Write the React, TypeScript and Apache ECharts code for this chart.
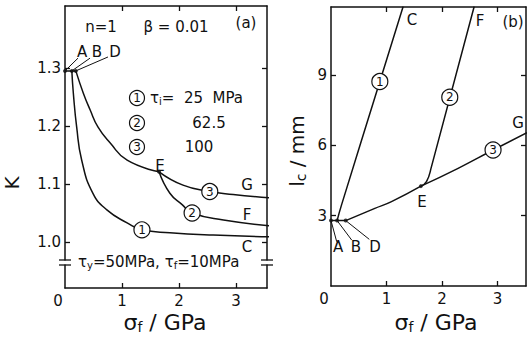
import { useEffect, useRef } from 'react';
import * as echarts from 'echarts';

// ---------------- data ----------------
const sigmaTickValues = [1, 2, 3];
const sigmaLabelValues = [0, 1, 2, 3];
const kTickValues = [1.0, 1.1, 1.2, 1.3];
const lcTickValues = [3, 6, 9];
const lcLabelValues = [3, 6, 9];

// panel (a): K vs sigma_f (GPa)
const kABD = [[0, 1.295], [0.12, 1.295], [0.19, 1.295]];
const kCurve1 = [[0.12, 1.295], [0.146, 1.257], [0.205, 1.198], [0.293, 1.141], [0.49, 1.084], [0.74, 1.055], [1.09, 1.033], [1.35, 1.021], [1.84, 1.016], [2.6, 1.012], [3.6, 1.009]];
const kCurveDE = [[0.19, 1.295], [0.32, 1.257], [0.44, 1.228], [0.58, 1.198], [0.79, 1.171], [1.09, 1.141], [1.65, 1.121]];
const kCurve3 = [[1.65, 1.121], [2.07, 1.098], [2.54, 1.087], [2.95, 1.082], [3.6, 1.076]];
const kCurve2 = [[1.65, 1.121], [1.84, 1.084], [2.06, 1.064], [2.23, 1.05], [2.78, 1.038], [3.6, 1.028]];
const kDots = [[0, 1.295], [0.12, 1.295], [0.19, 1.295], [1.65, 1.121]];
const kCircles = [[1.35, 1.021, '1'], [2.23, 1.05, '2'], [2.54, 1.087, '3']];
const kLeaders = [
  [[0, 1.295], [0.228, 1.317]],
  [[0.12, 1.295], [0.439, 1.317]],
  [[0.19, 1.295], [0.754, 1.319]],
];

// panel (b): l_c (mm) vs sigma_f (GPa)
const lcABD = [[0, 2.79], [0.11, 2.79], [0.265, 2.79]];
const lcCurve1 = [[0.11, 2.79], [0.19, 3.46], [0.88, 8.72], [1.3, 11.92]];
const lcCurveDE = [[0.265, 2.79], [0.79, 3.31], [1.09, 3.6], [1.62, 4.26]];
const lcCurve3 = [[1.62, 4.26], [2.29, 5.02], [2.92, 5.8], [3.53, 6.54]];
const lcCurve2 = [[1.62, 4.26], [1.72, 4.45], [1.81, 5.09], [2.58, 11.92]];
const lcDots = [[0, 2.79], [0.11, 2.79], [0.265, 2.79], [1.62, 4.26]];
const lcCircles = [[0.88, 8.72, '1'], [2.14, 8.05, '2'], [2.92, 5.8, '3']];
const lcLeaders = [
  [[0, 2.79], [0.103, 1.89]],
  [[0.11, 2.79], [0.373, 1.96]],
  [[0.265, 2.79], [0.69, 1.99]],
];

// ---------------- styling ----------------
const FONT = 'DejaVu Sans';
const INK = '#111';

const xMaxA = 202 / 57;
const yMinA = 0.9207;
const yMaxA = 1.4069;
const xMaxB = 195 / 55.5;
const yMaxB = 11.9;

function xAxisDef(grid: number, pos: 'bottom' | 'top', max: number, labels: boolean) {
  return {
    type: 'value',
    gridIndex: grid,
    position: pos,
    min: 0,
    max,
    axisLine: { show: true, onZero: false, lineStyle: { color: INK, width: 1.5 } },
    axisTick: { show: true, inside: true, length: 5, customValues: sigmaTickValues, lineStyle: { color: INK, width: 1.3 } },
    axisLabel: labels
      ? {
          show: true,
          customValues: sigmaLabelValues,
          color: INK,
          fontFamily: FONT,
          fontSize: 15,
          margin: 5,
          formatter: (v: number) => (v === 0 ? '{z|0}' : String(v)),
          rich: { z: { fontSize: 15, fontFamily: FONT, color: INK, padding: [0, 14, 0, 0] } },
        }
      : { show: false },
    splitLine: { show: false },
  };
}

function yAxisDef(grid: number, pos: 'left' | 'right', min: number, max: number, ticks: number[], labels: number[] | null, digits: number) {
  return {
    type: 'value',
    gridIndex: grid,
    position: pos,
    min,
    max,
    axisLine: { show: true, onZero: false, lineStyle: { color: INK, width: 1.5 } },
    axisTick: { show: true, inside: true, length: 5, customValues: ticks, lineStyle: { color: INK, width: 1.3 } },
    axisLabel: labels
      ? {
          show: true,
          customValues: labels,
          color: INK,
          fontFamily: FONT,
          fontSize: 15,
          margin: 4,
          formatter: (v: number) => v.toFixed(digits),
        }
      : { show: false },
    splitLine: { show: false },
  };
}

function curve(data: number[][], xi: number, yi: number) {
  return {
    type: 'line',
    data,
    xAxisIndex: xi,
    yAxisIndex: yi,
    showSymbol: false,
    symbol: 'none',
    smooth: 0.5,
    lineStyle: { color: INK, width: 1.5 },
    silent: true,
    z: 2,
  };
}

function leader(data: number[][], xi: number, yi: number) {
  return {
    type: 'line',
    data,
    xAxisIndex: xi,
    yAxisIndex: yi,
    showSymbol: false,
    symbol: 'none',
    lineStyle: { color: INK, width: 1 },
    silent: true,
    clip: false,
    z: 2,
  };
}

function dots(data: number[][], xi: number, yi: number) {
  return {
    type: 'scatter',
    data,
    xAxisIndex: xi,
    yAxisIndex: yi,
    symbolSize: 4,
    itemStyle: { color: INK },
    silent: true,
    z: 6,
  };
}

function circles(data: (number | string)[][], xi: number, yi: number) {
  return {
    type: 'scatter',
    data,
    xAxisIndex: xi,
    yAxisIndex: yi,
    symbol: 'circle',
    symbolSize: 16,
    itemStyle: { color: '#fff', borderColor: INK, borderWidth: 1.2, opacity: 1 },
    label: {
      show: true,
      position: 'inside',
      color: INK,
      fontFamily: FONT,
      fontSize: 12,
      formatter: (p: any) => String(p.value[2]),
    },
    silent: true,
    z: 5,
  };
}

function txt(x: number, y: number, text: string, size = 15, extra: any = {}) {
  return {
    type: 'text',
    x,
    y,
    z: 50,
    silent: true,
    ...extra,
    style: {
      text,
      fill: INK,
      fontFamily: FONT,
      fontSize: size,
      align: 'center',
      verticalAlign: 'middle',
      ...(extra.style || {}),
    },
  };
}

function hline(x1: number, x2: number, y: number) {
  return { type: 'line', z: 101, silent: true, shape: { x1, y1: y, x2, y2: y }, style: { stroke: INK, lineWidth: 1.3 } };
}

function breakMark(x: number) {
  return [
    { type: 'rect', z: 100, silent: true, shape: { x: x - 3, y: 260.5, width: 6, height: 4 }, style: { fill: '#fff' } },
    hline(x - 6, x + 6, 260),
    hline(x - 6, x + 6, 265),
  ];
}

const subRich = (base: number, sub: number, drop: number) => ({
  a: { fontSize: base, fontFamily: FONT, fill: INK },
  b: { fontSize: sub, fontFamily: FONT, fill: INK, padding: [drop, 0, 0, 0] },
});

export default function App() {
  const ref = useRef<HTMLDivElement>(null);

  useEffect(() => {
    if (!ref.current) return;
    const chart = echarts.init(ref.current, undefined, { renderer: 'svg' });

    const option: any = {
      animation: false,
      backgroundColor: '#fff',
      grid: [
        { left: 65, top: 6, width: 202, height: 282, show: false },
        { left: 331, top: 7, width: 195, height: 279, show: false },
      ],
      xAxis: [
        xAxisDef(0, 'bottom', xMaxA, true),
        xAxisDef(0, 'top', xMaxA, false),
        xAxisDef(1, 'bottom', xMaxB, true),
        xAxisDef(1, 'top', xMaxB, false),
      ],
      yAxis: [
        yAxisDef(0, 'left', yMinA, yMaxA, kTickValues, kTickValues, 1),
        yAxisDef(0, 'right', yMinA, yMaxA, kTickValues, null, 1),
        yAxisDef(1, 'left', 0, yMaxB, lcTickValues, lcLabelValues, 0),
        yAxisDef(1, 'right', 0, yMaxB, lcTickValues, null, 0),
      ],
      series: [
        // panel (a)
        curve(kABD, 0, 0),
        curve(kCurve1, 0, 0),
        curve(kCurveDE, 0, 0),
        curve(kCurve3, 0, 0),
        curve(kCurve2, 0, 0),
        ...kLeaders.map((l) => leader(l, 0, 0)),
        dots(kDots, 0, 0),
        circles(kCircles, 0, 0),
        // panel (b)
        curve(lcABD, 2, 2),
        curve(lcCurve1, 2, 2),
        curve(lcCurveDE, 2, 2),
        curve(lcCurve3, 2, 2),
        curve(lcCurve2, 2, 2),
        ...lcLeaders.map((l) => leader(l, 2, 2)),
        dots(lcDots, 2, 2),
        circles(lcCircles, 2, 2),
      ],
      graphic: [
        // panel (a) annotations
        txt(101, 27, 'n=1'),
        txt(176, 27, 'β = 0.01'),
        txt(246, 23, '(a)'),
        txt(82, 52, 'A'),
        txt(97, 52, 'B'),
        txt(115, 52, 'D'),
        txt(160, 166, 'E'),
        txt(247, 185, 'G'),
        txt(247, 215, 'F'),
        txt(247, 247, 'C'),
        // legend
        { type: 'circle', z: 50, silent: true, shape: { cx: 137, cy: 98, r: 7.5 }, style: { fill: '#fff', stroke: INK, lineWidth: 1.2 } },
        txt(137, 98, '1', 12),
        { type: 'circle', z: 50, silent: true, shape: { cx: 137, cy: 123, r: 7.5 }, style: { fill: '#fff', stroke: INK, lineWidth: 1.2 } },
        txt(137, 123, '2', 12),
        { type: 'circle', z: 50, silent: true, shape: { cx: 137, cy: 147, r: 7.5 }, style: { fill: '#fff', stroke: INK, lineWidth: 1.2 } },
        txt(137, 147, '3', 12),
        txt(150, 98, '', 15, {
          style: { text: '{a|τ}{b|i}{a|=  25  MPa}', align: 'left', rich: subRich(15, 10, 7) },
        }),
        txt(209, 123, '62.5'),
        txt(199, 147, '100'),
        txt(78, 262, '', 15, {
          style: { text: '{a|τ}{b|y}{a|=50MPa, τ}{b|f}{a|=10MPa}', align: 'left', rich: subRich(15, 10, 7) },
        }),
        ...breakMark(65),
        ...breakMark(267),
        // panel (b) annotations
        txt(412, 20, 'C'),
        txt(480, 21, 'F'),
        txt(513, 22, '(b)'),
        txt(518, 123, 'G'),
        txt(422, 202, 'E'),
        txt(338, 247, 'A'),
        txt(356, 247, 'B'),
        txt(375, 247, 'D'),
        // axis titles
        txt(12, 183, 'K', 20, { rotation: Math.PI / 2 }),
        txt(165, 322, '', 22, { style: { text: '{a|σ}{b|f}{a| / GPa}', rich: subRich(22, 14, 10) } }),
        txt(436, 322, '', 22, { style: { text: '{a|σ}{b|f}{a| / GPa}', rich: subRich(22, 14, 10) } }),
        txt(297, 151, '', 20, { rotation: Math.PI / 2, style: { text: '{a|l}{b|c}{a| / mm}', rich: subRich(20, 14, 8) } }),
      ],
    };

    chart.setOption(option);
    return () => chart.dispose();
  }, []);

  return (
    <div
      ref={ref}
      style={{ position: 'fixed', left: 0, top: 0, width: 527, height: 341, background: '#fff' }}
    />
  );
}
